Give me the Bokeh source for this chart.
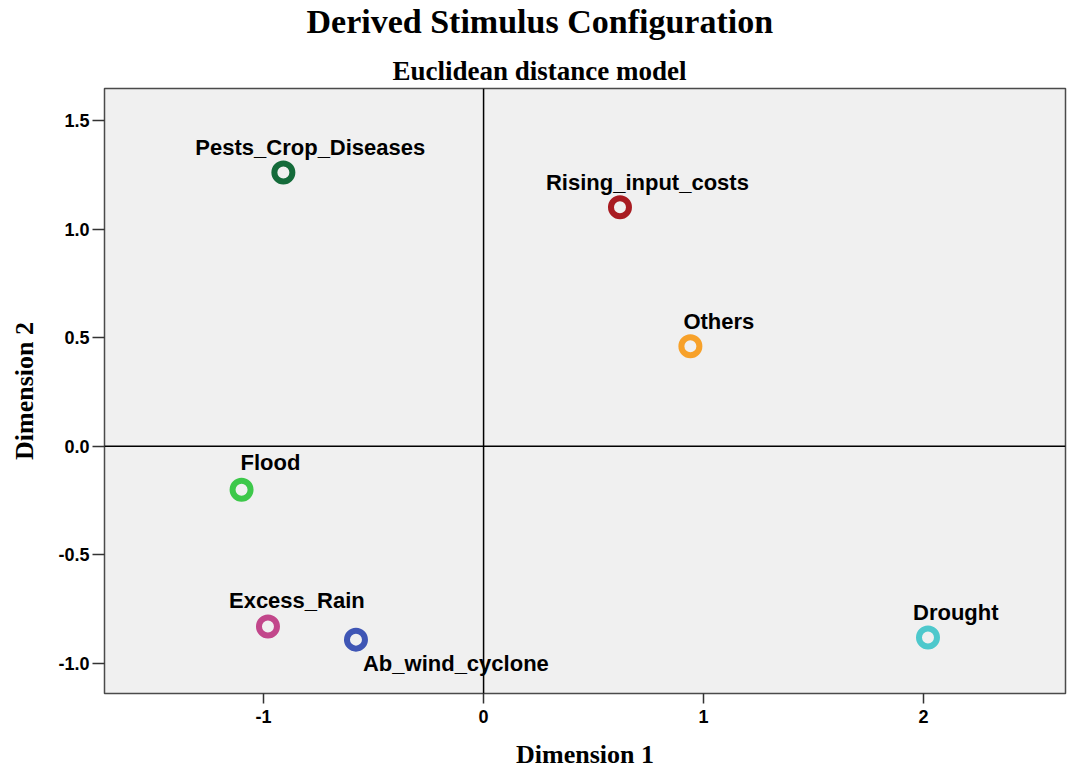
from bokeh.plotting import figure
from bokeh.models import ColumnDataSource, Span, Title, FixedTicker, NumeralTickFormatter, Range1d
from bokeh.core.properties import value
from bokeh.embed import file_html
from bokeh.resources import INLINE

names = ["Pests_Crop_Diseases", "Rising_input_costs", "Others", "Flood",
         "Excess_Rain", "Ab_wind_cyclone", "Drought"]
dim1 = [-0.91, 0.62, 0.94, -1.10, -0.98, -0.58, 2.02]
dim2 = [1.26, 1.10, 0.46, -0.20, -0.83, -0.89, -0.88]
colors = ["#146b3a", "#a81c22", "#f7a12a", "#3dc84a", "#c2478b", "#3f56b5", "#4ec8cc"]
x_ticks = [-1, 0, 1, 2]
y_ticks = [-1.0, -0.5, 0.0, 0.5, 1.0, 1.5]

# label placement offsets (screen px, style only)
lab_dx = [-88, -74, -7, -1, -39, 7, -15]
lab_dy = [-25, -25, -25, -27, -26, 24, -25]

src = ColumnDataSource(dict(x=dim1, y=dim2, name=names, color=colors, dx=lab_dx, dy=lab_dy))

p = figure(frame_width=961, frame_height=605, output_backend="svg", toolbar_location=None,
           x_range=Range1d(-1.723, 2.645), y_range=Range1d(-1.138, 1.647),
           min_border_left=104, min_border_top=88, min_border_bottom=70, min_border_right=2)
p.background_fill_color = "#f0f0f0"
p.border_fill_color = "white"
p.outline_line_color = "#4a4a4a"
p.outline_line_width = 1.5
p.xgrid.visible = False
p.ygrid.visible = False

p.xaxis.ticker = FixedTicker(ticks=x_ticks)
p.yaxis.ticker = FixedTicker(ticks=y_ticks)
p.xaxis.formatter = NumeralTickFormatter(format="0")
p.yaxis.formatter = NumeralTickFormatter(format="0.0")
for ax in (p.xaxis[0], p.yaxis[0]):
    ax.axis_line_color = None
    ax.major_tick_line_color = "#333333"
    ax.major_tick_line_width = 1.5
    ax.minor_tick_line_color = None
    ax.major_tick_in = 0
    ax.major_label_text_font = "Liberation Sans"
    ax.major_label_text_font_style = "bold"
    ax.major_label_text_font_size = "18px"
    ax.major_label_text_color = "black"
    ax.axis_label_text_font = "Liberation Serif"
    ax.axis_label_text_font_style = "bold"
    ax.axis_label_text_font_size = "26px"
    ax.axis_label_text_color = "black"
p.xaxis.major_tick_out = 10
p.yaxis.major_tick_out = 12
p.xaxis.major_label_standoff = 6
p.yaxis.major_label_standoff = 3
p.xaxis.axis_label = "Dimension 1"
p.yaxis.axis_label = "Dimension 2"
p.xaxis.axis_label_standoff = 14
p.yaxis.axis_label_standoff = 16

p.add_layout(Span(location=0, dimension="height", line_color="black", line_width=1.5))
p.add_layout(Span(location=0, dimension="width", line_color="black", line_width=1.5))

p.scatter("x", "y", source=src, size=18, line_width=6, line_color="color", fill_alpha=0)
p.text("x", "y", text="name", source=src, x_offset="dx", y_offset="dy",
       text_font=value("Liberation Sans"), text_font_style="bold", text_font_size="22px",
       text_align="left", text_baseline="middle", text_color="black")

p.add_layout(Title(text="Euclidean distance model", align="left", offset=288,
                   text_font="Liberation Serif", text_font_style="bold", text_font_size="27px",
                   text_color="black", standoff=6), "above")
p.add_layout(Title(text=" ", align="left", text_font_size="1px", standoff=8), "above")
p.add_layout(Title(text="Derived Stimulus Configuration", align="left", offset=202,
                   text_font="Liberation Serif", text_font_style="bold", text_font_size="34px",
                   text_color="black", standoff=0), "above")

open("out.html", "w").write(file_html(p, INLINE))
